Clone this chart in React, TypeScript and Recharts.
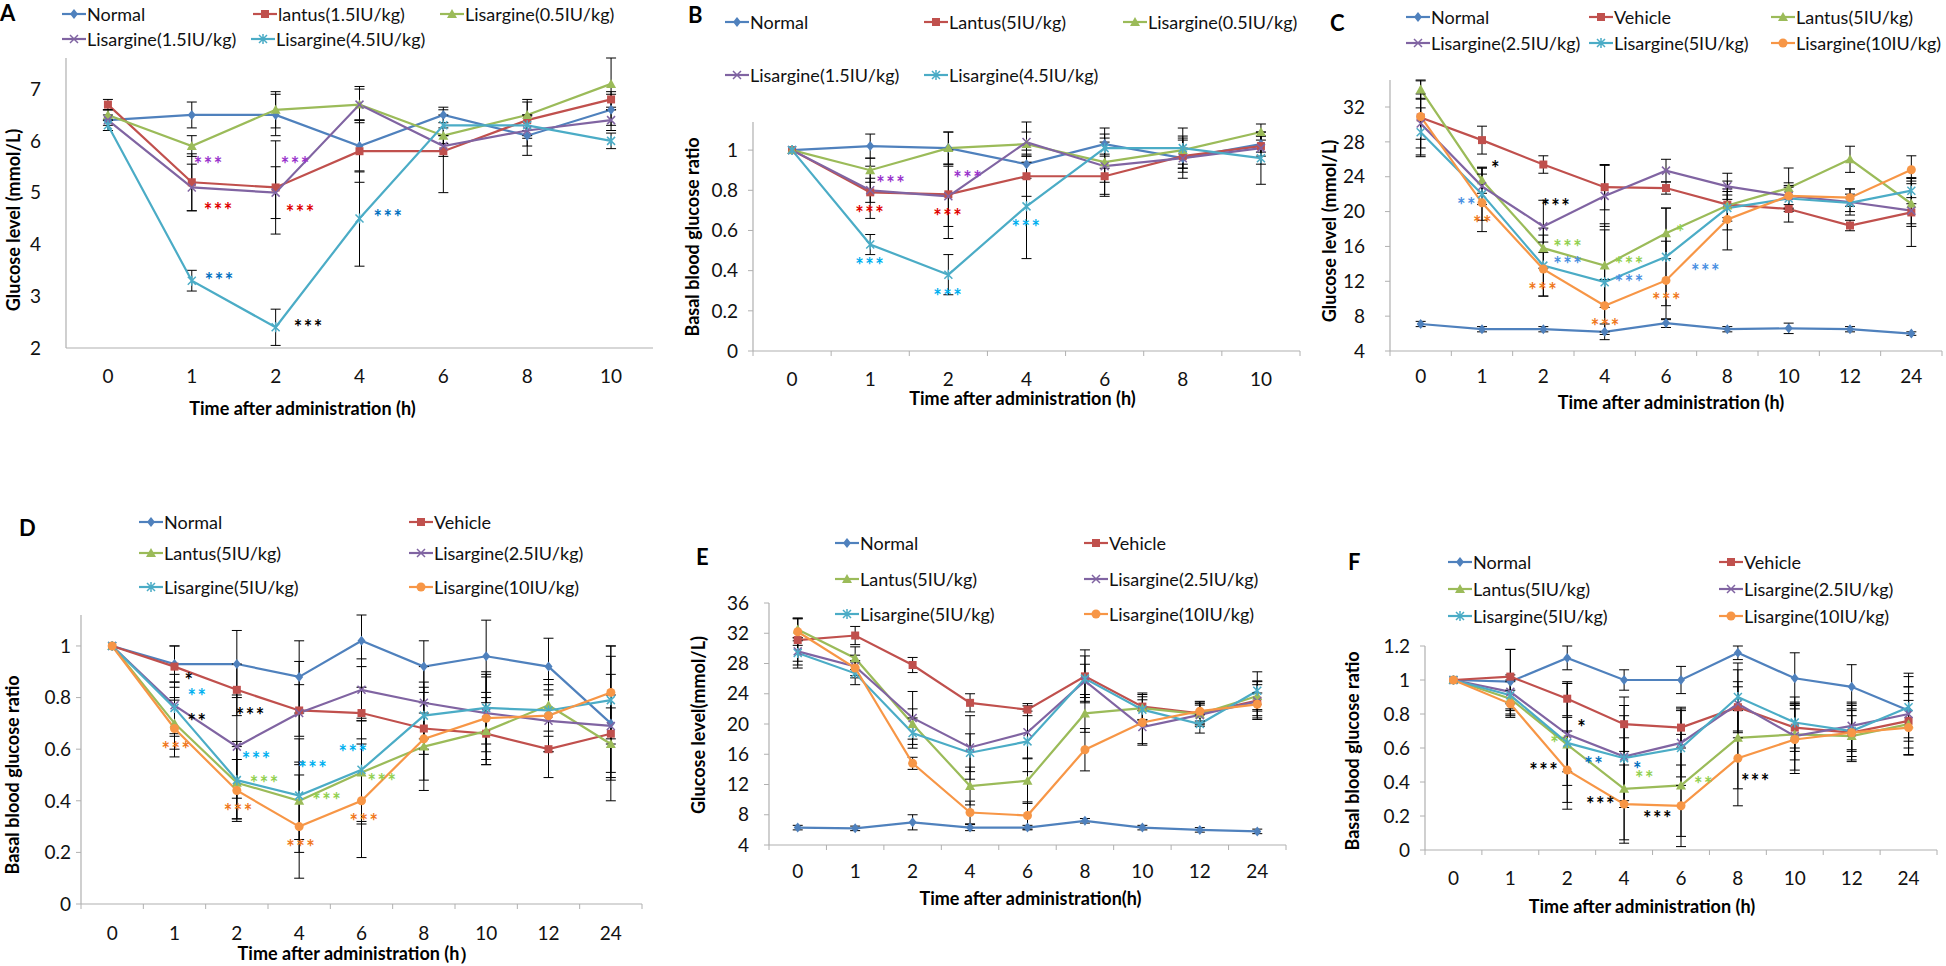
import { LineChart, Line, XAxis, YAxis, ErrorBar, ReferenceDot } from 'recharts'

const FONT = 'Lato, "Open Sans", sans-serif'
const AXIS = '#b0b0b0'

const BLUE = '#4F81BD'
const RED = '#C0504D'
const GREEN = '#9BBB59'
const PURPLE = '#8064A2'
const CYAN = '#4BACC6'
const ORANGE = '#F79646'

// time points (h)
const hoursShort = ['0', '1', '2', '4', '6', '8', '10']
const hoursLong = ['0', '1', '2', '4', '6', '8', '10', '12', '24']

// ---- Panel A : glucose level (mmol/L) ----
const aNormal = [6.4, 6.5, 6.5, 5.9, 6.5, 6.1, 6.6]
const aNormalErr = [0.2, 0.25, 0.4, 0.5, 0.15, 0.38, 0.3]
const aLantus = [6.7, 5.2, 5.1, 5.8, 5.8, 6.4, 6.8]
const aLantusErr = [0.1, 0.55, 0.9, 0.6, 0.8, 0.35, 0.15]
const aLis05 = [6.5, 5.9, 6.6, 6.7, 6.1, 6.5, 7.1]
const aLis05Err = [0.1, 0.2, 0.35, 0.35, 0.15, 0.3, 0.5]
const aLis15 = [6.4, 5.1, 5.0, 6.7, 5.9, 6.2, 6.4]
const aLis15Err = [0.1, 0.45, 0.5, 0.3, 0.2, 0.3, 0.2]
const aLis45 = [6.3, 3.3, 2.4, 4.5, 6.3, 6.3, 6.0]
const aLis45Err = [0.1, 0.2, 0.35, 0.92, 0.2, 0.2, 0.15]

// ---- Panel B : basal blood glucose ratio ----
const bNormal = [1.0, 1.02, 1.01, 0.93, 1.03, 0.96, 1.03]
const bNormalErr = [0, 0.06, 0.08, 0.07, 0.05, 0.05, 0.04]
const bLantus = [1.0, 0.79, 0.78, 0.87, 0.87, 0.97, 1.02]
const bLantusErr = [0, 0.13, 0.22, 0.1, 0.1, 0.08, 0.05]
const bLis05 = [1.0, 0.9, 1.01, 1.03, 0.94, 1.0, 1.09]
const bLis05Err = [0, 0.06, 0.08, 0.06, 0.1, 0.07, 0.04]
const bLis15 = [1.0, 0.8, 0.77, 1.04, 0.92, 0.96, 1.01]
const bLis15Err = [0, 0.06, 0.15, 0.1, 0.14, 0.1, 0.08]
const bLis45 = [1.0, 0.53, 0.38, 0.72, 1.01, 1.01, 0.96]
const bLis45Err = [0, 0.05, 0.1, 0.26, 0.1, 0.1, 0.13]

// ---- Panel C : glucose level (mmol/L) ----
const cNormal = [7.1, 6.5, 6.5, 6.2, 7.2, 6.5, 6.6, 6.5, 6.0]
const cNormalErr = [0.3, 0.3, 0.3, 0.9, 0.5, 0.3, 0.6, 0.3, 0.2]
const cVehicle = [30.8, 28.2, 25.4, 22.8, 22.7, 20.8, 20.3, 18.4, 19.9]
const cVehicleErr = [4.3, 1.6, 1.0, 2.6, 0.7, 1.5, 1.5, 0.6, 3.9]
const cLantus = [34.0, 23.6, 15.8, 13.8, 17.5, 20.7, 22.7, 26.0, 20.9]
const cLantusErr = [1.0, 1.5, 2.3, 4.8, 2.9, 2.8, 2.3, 1.5, 2.6]
const cLis25 = [30.1, 22.9, 18.3, 21.8, 24.7, 22.9, 21.8, 21.1, 20.1]
const cLis25Err = [2.8, 2.1, 3.0, 3.5, 1.3, 1.5, 1.0, 1.5, 1.5]
const cLis5 = [29.1, 22.0, 13.8, 11.9, 14.8, 20.4, 21.5, 21.0, 22.4]
const cLis5Err = [2.8, 3.0, 3.5, 6.0, 5.6, 1.5, 1.5, 1.0, 1.5]
const cLis10 = [30.9, 21.0, 13.4, 9.2, 12.1, 19.1, 21.8, 21.6, 24.8]
const cLis10Err = [2.6, 3.3, 3.1, 3.0, 4.5, 3.5, 1.5, 1.0, 1.6]

// ---- Panel D : basal blood glucose ratio ----
const dNormal = [1.0, 0.93, 0.93, 0.88, 1.02, 0.92, 0.96, 0.92, 0.7]
const dNormalErr = [0, 0.07, 0.13, 0.14, 0.1, 0.1, 0.14, 0.11, 0.3]
const dVehicle = [1.0, 0.92, 0.83, 0.75, 0.74, 0.68, 0.66, 0.6, 0.66]
const dVehicleErr = [0, 0.08, 0.1, 0.1, 0.1, 0.1, 0.12, 0.11, 0.15]
const dLantus = [1.0, 0.7, 0.47, 0.4, 0.51, 0.61, 0.67, 0.77, 0.62]
const dLantusErr = [0, 0.1, 0.14, 0.15, 0.2, 0.13, 0.13, 0.1, 0.14]
const dLis25 = [1.0, 0.77, 0.61, 0.74, 0.83, 0.78, 0.74, 0.71, 0.69]
const dLis25Err = [0, 0.12, 0.2, 0.2, 0.12, 0.14, 0.15, 0.12, 0.2]
const dLis5 = [1.0, 0.76, 0.48, 0.42, 0.52, 0.73, 0.76, 0.75, 0.79]
const dLis5Err = [0, 0.1, 0.15, 0.22, 0.2, 0.13, 0.14, 0.1, 0.17]
const dLis10 = [1.0, 0.68, 0.44, 0.3, 0.4, 0.64, 0.72, 0.73, 0.82]
const dLis10Err = [0, 0.11, 0.12, 0.2, 0.22, 0.2, 0.16, 0.14, 0.18]

// ---- Panel E : glucose level (mmol/L) ----
const eNormal = [6.3, 6.2, 7.0, 6.3, 6.3, 7.2, 6.3, 6.0, 5.8]
const eNormalErr = [0.3, 0.3, 1.0, 0.4, 0.3, 0.3, 0.3, 0.3, 0.3]
const eVehicle = [31.1, 31.7, 27.8, 22.8, 21.9, 26.3, 22.3, 21.4, 23.1]
const eVehicleErr = [2.8, 1.2, 1.0, 1.2, 0.8, 3.5, 1.8, 1.5, 2.5]
const eLantus = [32.5, 28.7, 20.0, 11.8, 12.5, 21.4, 22.1, 21.3, 23.7]
const eLantusErr = [1.5, 1.5, 2.0, 2.5, 3.0, 2.5, 1.5, 1.2, 2.0]
const eLis25 = [29.6, 27.6, 20.8, 16.9, 18.9, 25.7, 19.6, 21.2, 23.0]
const eLis25Err = [1.8, 1.5, 3.5, 4.2, 3.5, 2.2, 2.2, 1.5, 2.2]
const eLis5 = [29.4, 26.7, 18.8, 16.2, 17.7, 26.0, 21.9, 20.0, 24.4]
const eLis5Err = [2.0, 1.5, 2.0, 2.5, 4.0, 3.0, 2.0, 1.2, 2.5]
const eLis10 = [32.2, 27.4, 14.8, 8.3, 7.9, 16.6, 20.2, 21.7, 22.6]
const eLis10Err = [1.8, 1.0, 0.8, 1.5, 1.8, 2.8, 3.0, 1.3, 1.5]

// ---- Panel F : basal blood glucose ratio ----
const fNormal = [1.0, 0.99, 1.13, 1.0, 1.0, 1.16, 1.01, 0.96, 0.82]
const fNormalErr = [0, 0.19, 0.07, 0.06, 0.08, 0.04, 0.15, 0.13, 0.22]
const fVehicle = [1.0, 1.02, 0.89, 0.74, 0.72, 0.84, 0.72, 0.69, 0.76]
const fVehicleErr = [0, 0.16, 0.1, 0.16, 0.12, 0.15, 0.14, 0.16, 0.2]
const fLantus = [1.0, 0.89, 0.62, 0.36, 0.38, 0.66, 0.68, 0.67, 0.74]
const fLantusErr = [0, 0.1, 0.16, 0.3, 0.3, 0.3, 0.15, 0.12, 0.18]
const fLis25 = [1.0, 0.93, 0.68, 0.55, 0.63, 0.86, 0.67, 0.73, 0.8]
const fLis25Err = [0, 0.1, 0.3, 0.3, 0.2, 0.2, 0.2, 0.14, 0.16]
const fLis5 = [1.0, 0.91, 0.63, 0.54, 0.6, 0.9, 0.75, 0.7, 0.84]
const fLis5Err = [0, 0.09, 0.35, 0.25, 0.22, 0.2, 0.15, 0.12, 0.18]
const fLis10 = [1.0, 0.86, 0.47, 0.27, 0.26, 0.54, 0.65, 0.69, 0.72]
const fLis10Err = [0, 0.08, 0.23, 0.23, 0.24, 0.28, 0.2, 0.17, 0.16]

// tick values
const ticksA = [2, 3, 4, 5, 6, 7]
const ticksRatio = [0, 0.2, 0.4, 0.6, 0.8, 1]
const ticksRatioF = [0, 0.2, 0.4, 0.6, 0.8, 1, 1.2]
const ticksC = [4, 8, 12, 16, 20, 24, 28, 32]
const ticksE = [4, 8, 12, 16, 20, 24, 28, 32, 36]

// significance marks: [time, value, text, colour, x shift in px]
type Note = [string, number, string, string, number]
const notesA: Note[] = [
  ['1', 5.61, '***', '#9933CC', 17],
  ['2', 5.61, '***', '#9933CC', 20],
  ['1', 4.72, '***', '#E00000', 27],
  ['2', 4.68, '***', '#E00000', 25],
  ['4', 4.58, '***', '#0070C0', 29],
  ['1', 3.38, '***', '#0070C0', 28],
  ['2', 2.47, '***', '#000000', 33],
]
const notesB: Note[] = [
  ['1', 0.85, '***', '#9933CC', 21],
  ['2', 0.875, '***', '#9933CC', 20],
  ['1', 0.7, '***', '#E00000', 0],
  ['2', 0.685, '***', '#E00000', 0],
  ['4', 0.63, '***', '#00B0F0', 0],
  ['1', 0.445, '***', '#00B0F0', 0],
  ['2', 0.29, '***', '#00B0F0', 0],
]
const notesC: Note[] = [
  ['1', 25.4, '*', '#000000', 14],
  ['1', 21.1, '**', '#4A90E2', -15],
  ['1', 19.0, '**', '#F07820', 1],
  ['2', 21.0, '***', '#000000', 13],
  ['2', 16.3, '***', '#92D050', 25],
  ['2', 14.3, '***', '#4A90E2', 25],
  ['2', 11.35, '***', '#F07820', 0],
  ['4', 14.3, '***', '#92D050', 25],
  ['4', 12.3, '***', '#4A90E2', 25],
  ['4', 7.16, '***', '#F07820', 1],
  ['6', 10.2, '***', '#F07820', 1],
  ['6', 18.0, '*', '#92D050', 15],
  ['6', 13.5, '***', '#4A90E2', 40],
]
const notesD: Note[] = [
  ['1', 0.878, '*', '#000000', 15],
  ['1', 0.819, '**', '#00B0F0', 23],
  ['1', 0.72, '**', '#000000', 23],
  ['1', 0.613, '***', '#F07820', 2],
  ['2', 0.743, '***', '#000000', 14],
  ['2', 0.572, '***', '#00B0F0', 20],
  ['2', 0.481, '***', '#92D050', 28],
  ['2', 0.372, '***', '#F07820', 2],
  ['4', 0.537, '***', '#00B0F0', 14],
  ['4', 0.414, '***', '#92D050', 28],
  ['4', 0.233, '***', '#F07820', 2],
  ['6', 0.601, '***', '#00B0F0', -8],
  ['6', 0.49, '***', '#92D050', 21],
  ['6', 0.332, '***', '#F07820', 3],
]
const notesF: Note[] = [
  ['2', 0.744, '*', '#000000', 15],
  ['2', 0.646, '**', '#92D050', -7],
  ['2', 0.524, '**', '#0070C0', 27],
  ['2', 0.489, '***', '#000000', -23],
  ['4', 0.495, '*', '#0070C0', 14],
  ['4', 0.44, '**', '#92D050', 21],
  ['4', 0.29, '***', '#000000', -23],
  ['6', 0.205, '***', '#000000', -23],
  ['6', 0.405, '**', '#92D050', 23],
  ['8', 0.425, '***', '#000000', 18],
]

type Kind = 'diamond' | 'square' | 'triangle' | 'cross' | 'star' | 'circle'
interface Series { key: string; name: string; color: string; kind: Kind; values: number[]; errors: number[] }

function Marker({ kind, cx, cy, color }: { kind: Kind; cx: number; cy: number; color: string }) {
  const s = 4
  switch (kind) {
    case 'diamond':
      return <polygon points={`${cx},${cy - 5} ${cx + 4},${cy} ${cx},${cy + 5} ${cx - 4},${cy}`} fill={color} />
    case 'square':
      return <rect x={cx - s} y={cy - s} width={2 * s} height={2 * s} fill={color} />
    case 'triangle':
      return <polygon points={`${cx},${cy - 5} ${cx + 5},${cy + 4} ${cx - 5},${cy + 4}`} fill={color} />
    case 'cross':
      return <path d={`M${cx - s},${cy - s}L${cx + s},${cy + s}M${cx - s},${cy + s}L${cx + s},${cy - s}`} stroke={color} strokeWidth={1.5} fill="none" />
    case 'star':
      return <path d={`M${cx - s},${cy - s}L${cx + s},${cy + s}M${cx - s},${cy + s}L${cx + s},${cy - s}M${cx},${cy - 5}L${cx},${cy + 5}`} stroke={color} strokeWidth={1.5} fill="none" />
    default:
      return <circle cx={cx} cy={cy} r={4.5} fill={color} />
  }
}

const mk = (key: string, name: string, color: string, kind: Kind, values: number[], errors: number[]): Series =>
  ({ key, name, color, kind, values, errors })

interface PanelCfg {
  letter: string
  letterPos: [number, number]
  hours: string[]
  series: Series[]
  legend: [number, number][]
  box: { left: number; top: number; right: number; bottom: number }
  plot: { x0: number; x1: number; y0: number; y1: number }
  domain: [number, number]
  ticks: number[]
  tickGap: number
  tickMarks: boolean
  yTitle: string
  yTitlePos: [number, number]
  xTitle: string
  xTitleDx: number
  xTitleDy: number
  tickDy: number
  notes: Note[]
}

function Panel({ cfg }: { cfg: PanelCfg }) {
  const { box, plot } = cfg
  const W = box.right - box.left
  const H = box.bottom - box.top
  const band = (plot.x1 - plot.x0) / cfg.hours.length
  const rows = cfg.hours.map((h, i) => {
    const row: Record<string, any> = { t: h }
    cfg.series.forEach(s => {
      row[s.key] = s.values[i]
      row[s.key + 'Err'] = s.errors[i]
    })
    return row
  })

  const xTick = (p: any) => {
    const { x, y, payload, index } = p
    const last = index === cfg.hours.length - 1
    return (
      <g>
        {cfg.tickMarks && <line x1={x - band / 2} x2={x - band / 2} y1={y} y2={y + 5} stroke={AXIS} />}
        {cfg.tickMarks && last && <line x1={x + band / 2} x2={x + band / 2} y1={y} y2={y + 5} stroke={AXIS} />}
        <text x={x} y={y + cfg.tickDy} textAnchor="middle" dominantBaseline="central" fontSize={19} fontFamily={FONT} fill="#111">
          {payload.value}
        </text>
      </g>
    )
  }

  const xTitle = () => (
    <text
      x={(plot.x0 + plot.x1) / 2 - box.left + cfg.xTitleDx}
      y={plot.y1 - box.top + cfg.xTitleDy}
      textAnchor="middle"
      dominantBaseline="central"
      fontSize={18}
      fontWeight="bold"
      fontFamily={FONT}
      fill="#000"
    >
      {cfg.xTitle}
    </text>
  )

  const yTitle = () => {
    const x = cfg.yTitlePos[0] - box.left
    const y = cfg.yTitlePos[1] - box.top
    return (
      <text
        x={x}
        y={y}
        transform={`rotate(-90, ${x}, ${y})`}
        textAnchor="middle"
        dominantBaseline="central"
        fontSize={18}
        fontWeight="bold"
        fontFamily={FONT}
        fill="#000"
      >
        {cfg.yTitle}
      </text>
    )
  }

  return (
    <>
      <div style={{ position: 'absolute', left: box.left, top: box.top }}>
        <LineChart
          width={W}
          height={H}
          data={rows}
          margin={{ top: plot.y0 - box.top, right: box.right - plot.x1, bottom: 0, left: 0 }}
        >
          <XAxis
            dataKey="t"
            scale="band"
            interval={0}
            tickLine={false}
            tickSize={0}
            tickMargin={0}
            height={box.bottom - plot.y1}
            axisLine={{ stroke: AXIS, strokeWidth: 1.2 }}
            tick={xTick}
            label={xTitle}
          />
          <YAxis
            type="number"
            domain={cfg.domain}
            ticks={cfg.ticks}
            interval={0}
            width={plot.x0 - box.left}
            tickLine={cfg.tickMarks ? { stroke: AXIS } : false}
            tickSize={cfg.tickMarks ? 5 : 0}
            tickMargin={cfg.tickMarks ? cfg.tickGap - 5 : cfg.tickGap}
            axisLine={{ stroke: AXIS, strokeWidth: 1.2 }}
            tick={{ fill: '#111', fontSize: 19, fontFamily: FONT }}
            label={yTitle}
          />
          {cfg.series.map(s => (
            <Line
              key={s.key}
              dataKey={s.key}
              stroke={s.color}
              strokeWidth={2.2}
              isAnimationActive={false}
              activeDot={false}
              dot={(p: any) => (
                <g key={`${s.key}-${p.index}`}>
                  <Marker kind={s.kind} cx={p.cx} cy={p.cy} color={s.color} />
                </g>
              )}
            >
              <ErrorBar dataKey={s.key + 'Err'} width={5} stroke="#000" strokeWidth={1} direction="y" isAnimationActive={false} />
            </Line>
          ))}
          {cfg.notes.map((n, i) => (
            <ReferenceDot
              key={i}
              x={n[0]}
              y={n[1]}
              r={0}
              ifOverflow="visible"
              shape={(p: any) => (
                <text
                  x={p.cx + n[4]}
                  y={p.cy + 11}
                  textAnchor="middle"
                  fontSize={20}
                  fontWeight="bold"
                  fontFamily={FONT}
                  fill={n[3]}
                  letterSpacing={1.5}
                >
                  {n[2]}
                </text>
              )}
            />
          ))}
        </LineChart>
      </div>
      {cfg.series.map((s, i) => (
        <div
          key={s.key}
          style={{
            position: 'absolute',
            left: cfg.legend[i][0],
            top: cfg.legend[i][1] - 12,
            height: 24,
            display: 'flex',
            alignItems: 'center',
            whiteSpace: 'nowrap',
            fontFamily: FONT,
            fontSize: 18,
            color: '#111',
          }}
        >
          <svg width={24} height={14} style={{ display: 'block' }}>
            <line x1={0} y1={7} x2={24} y2={7} stroke={s.color} strokeWidth={2.2} />
            <Marker kind={s.kind} cx={12} cy={7} color={s.color} />
          </svg>
          <span style={{ marginLeft: 1 }}>{s.name}</span>
        </div>
      ))}
      <div
        style={{
          position: 'absolute',
          left: cfg.letterPos[0] - 10,
          top: cfg.letterPos[1] - 14,
          fontFamily: FONT,
          fontWeight: 'bold',
          fontSize: 22,
          lineHeight: '28px',
        }}
      >
        {cfg.letter}
      </div>
    </>
  )
}

const sixNames = ['Normal', 'Vehicle', 'Lantus(5IU/kg)', 'Lisargine(2.5IU/kg)', 'Lisargine(5IU/kg)', 'Lisargine(10IU/kg)']

const sixSeries = (vals: number[][], errs: number[][]): Series[] => [
  mk('normal', sixNames[0], BLUE, 'diamond', vals[0], errs[0]),
  mk('vehicle', sixNames[1], RED, 'square', vals[1], errs[1]),
  mk('lantus', sixNames[2], GREEN, 'triangle', vals[2], errs[2]),
  mk('lis25', sixNames[3], PURPLE, 'cross', vals[3], errs[3]),
  mk('lis5', sixNames[4], CYAN, 'star', vals[4], errs[4]),
  mk('lis10', sixNames[5], ORANGE, 'circle', vals[5], errs[5]),
]

const panelA: PanelCfg = {
  letter: 'A',
  letterPos: [10, 13],
  hours: hoursShort,
  series: [
    mk('normal', 'Normal', BLUE, 'diamond', aNormal, aNormalErr),
    mk('lantus', 'lantus(1.5IU/kg)', RED, 'square', aLantus, aLantusErr),
    mk('lis05', 'Lisargine(0.5IU/kg)', GREEN, 'triangle', aLis05, aLis05Err),
    mk('lis15', 'Lisargine(1.5IU/kg)', PURPLE, 'cross', aLis15, aLis15Err),
    mk('lis45', 'Lisargine(4.5IU/kg)', CYAN, 'star', aLis45, aLis45Err),
  ],
  legend: [[62, 14], [253, 14], [440, 14], [62, 39], [251, 39]],
  box: { left: 0, top: 50, right: 660, bottom: 430 },
  plot: { x0: 66, x1: 653, y0: 58, y1: 348 },
  domain: [2, 7.5],
  ticks: ticksA,
  tickGap: 25,
  tickMarks: false,
  yTitle: 'Glucose level (mmol/L)',
  yTitlePos: [13, 220],
  xTitle: 'Time after administration (h)',
  xTitleDx: -57,
  xTitleDy: 60,
  tickDy: 27,
  notes: notesA,
}

const panelB: PanelCfg = {
  letter: 'B',
  letterPos: [698, 15],
  hours: hoursShort,
  series: [
    mk('normal', 'Normal', BLUE, 'diamond', bNormal, bNormalErr),
    mk('lantus', 'Lantus(5IU/kg)', RED, 'square', bLantus, bLantusErr),
    mk('lis05', 'Lisargine(0.5IU/kg)', GREEN, 'triangle', bLis05, bLis05Err),
    mk('lis15', 'Lisargine(1.5IU/kg)', PURPLE, 'cross', bLis15, bLis15Err),
    mk('lis45', 'Lisargine(4.5IU/kg)', CYAN, 'star', bLis45, bLis45Err),
  ],
  legend: [[725, 22], [924, 22], [1123, 22], [725, 75], [924, 75]],
  box: { left: 680, top: 110, right: 1305, bottom: 430 },
  plot: { x0: 753, x1: 1300, y0: 122, y1: 351 },
  domain: [0, 1.1],
  ticks: ticksRatio,
  tickGap: 15,
  tickMarks: true,
  yTitle: 'Basal blood glucose ratio',
  yTitlePos: [692, 237],
  xTitle: 'Time after administration (h)',
  xTitleDx: -4,
  xTitleDy: 47,
  tickDy: 27,
  notes: notesB,
}

const panelC: PanelCfg = {
  letter: 'C',
  letterPos: [1340, 23],
  hours: hoursLong,
  series: sixSeries(
    [cNormal, cVehicle, cLantus, cLis25, cLis5, cLis10],
    [cNormalErr, cVehicleErr, cLantusErr, cLis25Err, cLis5Err, cLis10Err],
  ),
  legend: [[1406, 17], [1589, 17], [1771, 17], [1406, 43], [1589, 43], [1771, 43]],
  box: { left: 1315, top: 70, right: 1946, bottom: 430 },
  plot: { x0: 1390, x1: 1942, y0: 80, y1: 351 },
  domain: [4, 35],
  ticks: ticksC,
  tickGap: 25,
  tickMarks: true,
  yTitle: 'Glucose level (mmol/L)',
  yTitlePos: [1329, 231],
  xTitle: 'Time after administration (h)',
  xTitleDx: 5,
  xTitleDy: 51,
  tickDy: 24,
  notes: notesC,
}

const panelD: PanelCfg = {
  letter: 'D',
  letterPos: [29, 528],
  hours: hoursLong,
  series: sixSeries(
    [dNormal, dVehicle, dLantus, dLis25, dLis5, dLis10],
    [dNormalErr, dVehicleErr, dLantusErr, dLis25Err, dLis5Err, dLis10Err],
  ),
  legend: [[139, 522], [409, 522], [139, 553], [409, 553], [139, 587], [409, 587]],
  box: { left: 0, top: 600, right: 650, bottom: 966 },
  plot: { x0: 81, x1: 642, y0: 615, y1: 904 },
  domain: [0, 1.1],
  ticks: ticksRatio,
  tickGap: 10,
  tickMarks: true,
  yTitle: 'Basal blood glucose ratio',
  yTitlePos: [12, 775],
  xTitle: 'Time after administration (h\uFF09',
  xTitleDx: -4,
  xTitleDy: 49,
  tickDy: 28,
  notes: notesD,
}

const panelE: PanelCfg = {
  letter: 'E',
  letterPos: [706, 557],
  hours: hoursLong,
  series: sixSeries(
    [eNormal, eVehicle, eLantus, eLis25, eLis5, eLis10],
    [eNormalErr, eVehicleErr, eLantusErr, eLis25Err, eLis5Err, eLis10Err],
  ),
  legend: [[835, 543], [1084, 543], [835, 579], [1084, 579], [835, 614], [1084, 614]],
  box: { left: 672, top: 590, right: 1300, bottom: 966 },
  plot: { x0: 769, x1: 1286, y0: 603, y1: 845 },
  domain: [4, 36],
  ticks: ticksE,
  tickGap: 20,
  tickMarks: true,
  yTitle: 'Glucose level(mmol/L)',
  yTitlePos: [698, 725],
  xTitle: 'Time after administration(h)',
  xTitleDx: 3,
  xTitleDy: 53,
  tickDy: 25,
  notes: [],
}

const panelF: PanelCfg = {
  letter: 'F',
  letterPos: [1358, 562],
  hours: hoursLong,
  series: sixSeries(
    [fNormal, fVehicle, fLantus, fLis25, fLis5, fLis10],
    [fNormalErr, fVehicleErr, fLantusErr, fLis25Err, fLis5Err, fLis10Err],
  ),
  legend: [[1448, 562], [1719, 562], [1448, 589], [1719, 589], [1448, 616], [1719, 616]],
  box: { left: 1330, top: 630, right: 1946, bottom: 966 },
  plot: { x0: 1425, x1: 1937, y0: 646, y1: 850 },
  domain: [0, 1.2],
  ticks: ticksRatioF,
  tickGap: 15,
  tickMarks: true,
  yTitle: 'Basal blood glucose ratio',
  yTitlePos: [1352, 751],
  xTitle: 'Time after administration (h)',
  xTitleDx: -39,
  xTitleDy: 56,
  tickDy: 27,
  notes: notesF,
}

export default function App() {
  return (
    <div style={{ position: 'absolute', left: 0, top: 0, width: 1946, height: 966, background: '#fff', overflow: 'hidden' }}>
      {[panelA, panelB, panelC, panelD, panelE, panelF].map(p => (
        <Panel key={p.letter} cfg={p} />
      ))}
    </div>
  )
}
